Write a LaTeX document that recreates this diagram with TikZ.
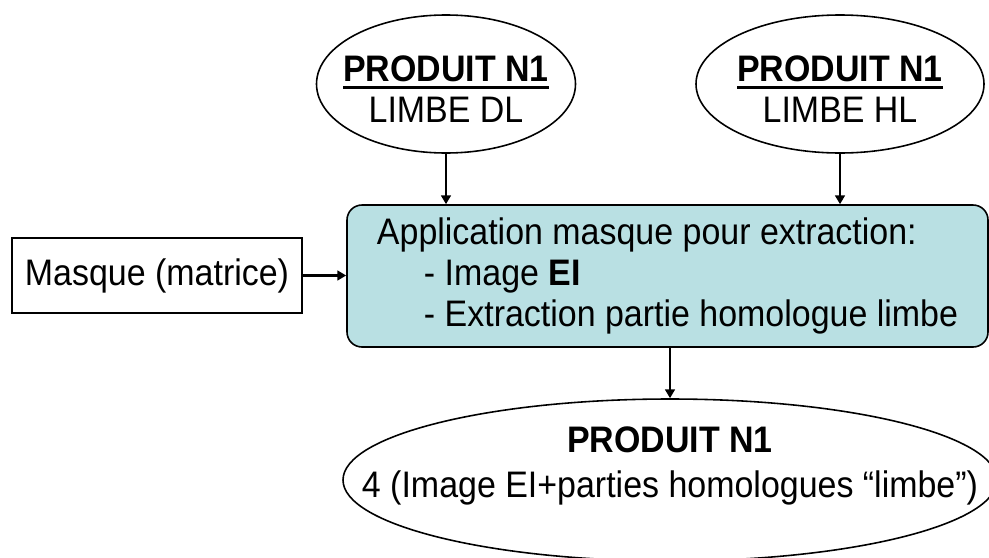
\documentclass[tikz,border=0pt]{standalone}
\usepackage{fontspec}
\setmainfont[FakeStretch=0.92]{Liberation Sans}
\usetikzlibrary{shapes.geometric,arrows.meta,positioning}

\definecolor{bleuboite}{RGB}{185,224,227}

% titre souligne avec un trait epais
\newcommand{\souligne}[1]{\setbox0=\hbox{#1}\rlap{\raisebox{-4.4pt}{\rule{\wd0}{1.6pt}}}\box0}

\tikzset{
  ovale/.style={ellipse, draw, line width=0.9pt, inner sep=0pt},
  boite/.style={draw, line width=0.9pt, inner sep=0pt},
  fleche/.style={-{Triangle[length=5pt,width=5.5pt]}, line width=1.4pt},
  texte/.style={align=center, inner sep=0pt, font=\fontsize{21}{23.5}\selectfont},
}

\begin{document}
\begin{tikzpicture}
    \useasboundingbox (0,0) rectangle (19.78,-11.14);
    \clip (0,0) rectangle (19.78,-11.14);
    % Define coordinates for the centres of the blocks
    \coordinate (centre dl) at (8.92,-1.68);
    \coordinate (centre hl) at (16.80,-1.68);
    \coordinate (centre masque) at (3.14,-5.51);
    \coordinate (centre traitement) at (13.35,-5.52);
    \coordinate (centre sortie) at (13.40,-9.60);

    % Produits d'entree
    \node[ovale, minimum width=5.18cm, minimum height=2.76cm] (dl) at (centre dl) {};
    \node[texte] (dl texte) at ([yshift=-0.1cm]dl.center) {\souligne{\textbf{PRODUIT N1}}\\LIMBE DL};
    \node[ovale, minimum width=5.76cm, minimum height=2.76cm] (hl) at (centre hl) {};
    \node[texte] (hl texte) at ([yshift=-0.1cm]hl.center) {\souligne{\textbf{PRODUIT N1}}\\LIMBE HL};

    % Masque et traitement
    \node[boite, minimum width=5.8cm, minimum height=1.5cm, font=\fontsize{21}{23}\selectfont] (masque) at (centre masque) {Masque (matrice)};
    \node[boite, fill=bleuboite, rounded corners=0.3cm, minimum width=12.82cm, minimum height=2.84cm,
          align=left, font=\fontsize{21}{23.5}\selectfont] (traitement) at (centre traitement)
          {Application masque pour extraction:\\
           \hspace*{0.94cm}- Image \textbf{EI}\\
           \hspace*{0.94cm}- Extraction partie homologue limbe};

    % Produit de sortie
    \node[ovale, minimum width=13.08cm, minimum height=3.24cm] (sortie) at (centre sortie) {};
    \node[texte, font=\fontsize{21}{25.5}\selectfont] (sortie texte) at ([yshift=0.28cm]sortie.center) {\textbf{PRODUIT N1}\\4 (Image EI+parties homologues “limbe”)};

    % Fleches
    \draw[fleche] (dl) -- (dl |- traitement.north);
    \draw[fleche] (hl) -- (hl |- traitement.north);
    \draw[fleche] (masque.east) -- (masque.east -| traitement.west);
    \draw[fleche] (traitement.south -| sortie.north) -- (sortie.north);
\end{tikzpicture}
\end{document}
